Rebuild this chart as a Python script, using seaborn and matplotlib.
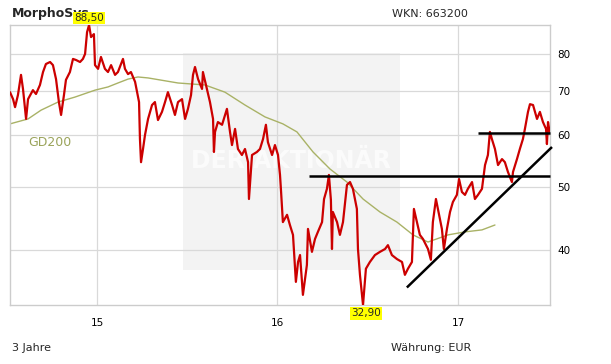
import numpy as np
import pandas as pd
import matplotlib
matplotlib.use("Agg")
import matplotlib.pyplot as plt
from matplotlib.patches import Rectangle
from matplotlib.ticker import NullLocator
import seaborn as sns

# ---- data ----
years = [2014.518, 2014.535, 2014.546, 2014.562, 2014.579, 2014.590, 2014.607, 2014.618,
         2014.645, 2014.662, 2014.684, 2014.701, 2014.717, 2014.740, 2014.756, 2014.773,
         2014.789, 2014.801, 2014.817, 2014.828, 2014.850, 2014.867, 2014.884, 2014.906,
         2014.922, 2014.934, 2014.945, 2014.956, 2014.967, 2014.983, 2014.989, 2015.006,
         2015.022, 2015.044, 2015.061, 2015.078, 2015.100, 2015.116, 2015.144, 2015.155,
         2015.172, 2015.188, 2015.211, 2015.222, 2015.233, 2015.238, 2015.244, 2015.255,
         2015.266, 2015.283, 2015.305, 2015.321, 2015.338, 2015.360, 2015.377, 2015.393,
         2015.416, 2015.432, 2015.449, 2015.471, 2015.488, 2015.504, 2015.521, 2015.532,
         2015.543, 2015.560, 2015.582, 2015.587, 2015.609, 2015.626, 2015.643, 2015.648,
         2015.654, 2015.670, 2015.693, 2015.720, 2015.737, 2015.748, 2015.765, 2015.781,
         2015.803, 2015.820, 2015.837, 2015.842, 2015.859, 2015.886, 2015.903, 2015.920,
         2015.936, 2015.947, 2015.970, 2015.986, 2016.003, 2016.014, 2016.019, 2016.030,
         2016.053, 2016.069, 2016.086, 2016.102, 2016.114, 2016.125, 2016.141, 2016.163,
         2016.169, 2016.191, 2016.208, 2016.224, 2016.247, 2016.258, 2016.274, 2016.285,
         2016.296, 2016.302, 2016.307, 2016.330, 2016.346, 2016.363, 2016.385, 2016.402,
         2016.418, 2016.440, 2016.446, 2016.457, 2016.474, 2016.490, 2016.512, 2016.540,
         2016.568, 2016.596, 2016.612, 2016.634, 2016.662, 2016.690, 2016.706, 2016.723,
         2016.745, 2016.756, 2016.773, 2016.789, 2016.806, 2016.834, 2016.850, 2016.861,
         2016.878, 2016.889, 2016.911, 2016.922, 2016.939, 2016.956, 2016.972, 2016.994,
         2017.006, 2017.022, 2017.039, 2017.055, 2017.078, 2017.094, 2017.111, 2017.133,
         2017.150, 2017.166, 2017.177, 2017.188, 2017.205, 2017.222, 2017.244, 2017.260,
         2017.277, 2017.299, 2017.305, 2017.327, 2017.343, 2017.360, 2017.371, 2017.388,
         2017.399, 2017.416, 2017.438, 2017.454, 2017.471, 2017.488, 2017.493, 2017.499,
         2017.508]
prices = [69.8, 68.1, 66.2, 69.1, 74.2, 70.6, 63.5, 68.1,
          70.3, 69.35, 71.6, 74.95, 77.1, 77.65, 76.8, 73.1,
          67.4, 64.4, 69.1, 72.9, 74.95, 78.5, 78.2, 77.65,
          78.5, 79.9, 86.3, 88.5, 84.8, 85.7, 76.8, 75.8,
          79.05, 75.8, 74.95, 76.8, 74.2, 74.95, 78.5, 75.8,
          74.4, 74.95, 72.4, 69.8, 67.4, 59.15, 54.5, 57.1,
          60.0, 63.5, 66.7, 67.4, 63.25, 65.1, 67.4, 69.8,
          66.7, 64.4, 67.4, 68.1, 63.5, 65.8, 69.1, 74.2,
          76.3, 73.1, 70.6, 74.95, 70.6, 67.4, 63.5, 56.5,
          60.65, 62.8, 62.2, 65.8, 60.65, 57.9, 61.3, 57.1,
          55.9, 57.1, 54.5, 47.85, 55.9, 56.5, 57.1, 59.15,
          62.2, 58.5, 55.9, 57.9, 55.9, 52.1, 49.6, 44.1,
          45.25, 43.65, 42.15, 35.7, 38.3, 39.25, 34.1, 37.9,
          43.05, 39.7, 41.55, 42.6, 44.1, 47.85, 49.6, 52.1,
          47.7, 40.1, 45.7, 44.1, 42.15, 44.1, 50.3, 50.8,
          49.6, 46.2, 40.1, 36.6, 32.9, 37.4, 38.3, 39.25,
          39.7, 40.1, 40.65, 39.25, 38.7, 38.3, 36.6, 37.4,
          38.3, 46.2, 44.1, 42.15, 41.55, 40.1, 38.6, 44.1,
          47.85, 46.2, 43.05, 40.1, 43.05, 45.7, 47.35, 48.55,
          51.35, 49.05, 48.55, 49.6, 50.8, 47.85, 48.55, 49.6,
          53.95, 55.9, 60.65, 59.15, 57.1, 53.95, 55.1, 54.5,
          52.65, 50.8, 52.65, 55.1, 57.1, 59.15, 61.3, 65.1,
          66.9, 66.7, 63.5, 65.1, 62.8, 61.3, 58.1, 62.8,
          60.65]

gd_years = [2014.518, 2014.618, 2014.690, 2014.784, 2014.878, 2014.989, 2015.061,
            2015.116, 2015.172, 2015.227, 2015.283, 2015.449, 2015.598, 2015.709,
            2015.820, 2015.931, 2016.030, 2016.108, 2016.197, 2016.291, 2016.385,
            2016.474, 2016.568, 2016.662, 2016.751, 2016.834, 2016.945, 2017.039,
            2017.133, 2017.205]
gd_values = [62.4, 63.5, 65.5, 67.4, 68.6, 70.3, 71.1,
             72.1, 73.1, 73.65, 73.4, 72.1, 71.6, 69.8,
             66.7, 63.95, 62.4, 60.65, 56.5, 53.2, 50.8,
             47.85, 45.7, 44.1, 42.15, 41.1, 42.15, 42.6,
             42.9, 43.65]

support_years = [2016.175, 2017.510]
support_level = 51.9
resistance_years = [2017.111, 2017.510]
resistance_level = 60.4
trend_years = [2016.717, 2017.521]
trend_values = [35.0, 57.5]

x_ticks = [2015, 2016, 2017]
x_labels = ["15", "16", "17"]
y_ticks = [40, 50, 60, 70, 80]
y_labels = ["40", "50", "60", "70", "80"]

# ---- figure ----
sns.set_theme(style="white")
plt.rcParams['font.family'] = ['DejaVu Sans']

W, H = 611, 364
fig = plt.figure(figsize=(W / 100, H / 100), dpi=100)
fig.patch.set_facecolor("white")
ax = fig.add_axes([10 / W, 59 / H, 540 / W, 280 / H])
ax.set_facecolor("white")
ax.set_yscale("log")

# watermark box + text
ax.add_patch(Rectangle((2015.476, 37.2), 2016.679 - 2015.476, 80.2 - 37.2,
                       facecolor="#f3f3f3", edgecolor="none", zorder=0.1))
ax.text(2016.075, 54.7, "DER AKTIONÄR", ha="center", va="center",
        fontsize=17, fontweight="bold", color="#fbfbfb", zorder=0.2)

df = pd.DataFrame({"year": years, "price": prices})
gd = pd.DataFrame({"year": gd_years, "gd200": gd_values})

sns.lineplot(data=gd, x="year", y="gd200", ax=ax, color="#a9b266", lw=1.0,
             estimator=None, sort=False, zorder=2)
sns.lineplot(data=df, x="year", y="price", ax=ax, color="#cc0000", lw=1.6,
             estimator=None, sort=False, zorder=3)

ax.plot(support_years, [support_level] * 2, color="black", lw=1.8, zorder=4,
        solid_capstyle="butt", clip_on=False)
ax.plot(resistance_years, [resistance_level] * 2, color="black", lw=1.8, zorder=4,
        solid_capstyle="butt", clip_on=False)
ax.plot(trend_years, trend_values, color="black", lw=1.8, zorder=4,
        solid_capstyle="butt", clip_on=False)

ax.set_xlim(2014.518, 2017.510)
ax.set_ylim(32.9, 88.5)
ax.set_xticks(x_ticks)
ax.set_xticklabels(x_labels)
ax.yaxis.tick_right()
ax.set_yticks(y_ticks)
ax.set_yticklabels(y_labels)
ax.yaxis.set_minor_locator(NullLocator())
ax.tick_params(axis="both", length=0, labelsize=7.5, colors="black")
ax.tick_params(axis="x", pad=9)
ax.tick_params(axis="y", pad=5)
ax.set_xlabel("")
ax.set_ylabel("")
ax.grid(True, color="#d9d9d9", lw=0.9)
ax.set_axisbelow(True)
for s in ax.spines.values():
    s.set_color("#cccccc")
    s.set_linewidth(1.0)
    s.set_visible(True)

# GD200 label
ax.text(2014.618, 58.5, "GD200", color="#9aa35a", fontsize=9, ha="left", va="center")

# max / min labels
i_max = int(np.argmax(prices))
i_min = int(np.argmin(prices))
box = dict(boxstyle="square,pad=0.12", facecolor="#ffff00", edgecolor="none")
ax.annotate(f"{prices[i_max]:.2f}".replace(".", ","), xy=(years[i_max], prices[i_max]),
            xytext=(0, 5), textcoords="offset points", ha="center", va="center",
            fontsize=7.5, bbox=box, annotation_clip=False, zorder=6)
ax.annotate(f"{prices[i_min]:.2f}".replace(".", ","), xy=(years[i_min], prices[i_min]),
            xytext=(2, -6), textcoords="offset points", ha="center", va="center",
            fontsize=7.5, bbox=box, annotation_clip=False, zorder=6)

# header / footer texts
fig.text(12 / W, 1 - 14 / H, "MorphoSys", fontsize=9, fontweight="bold",
         ha="left", va="center", zorder=-1)
fig.text(392 / W, 1 - 14 / H, "WKN: 663200", fontsize=8, ha="left", va="center")
fig.text(12 / W, 1 - 348 / H, "3 Jahre", fontsize=8, ha="left", va="center")
fig.text(391 / W, 1 - 348 / H, "Währung: EUR", fontsize=8, ha="left", va="center")

fig.savefig("out.png", dpi=100)
